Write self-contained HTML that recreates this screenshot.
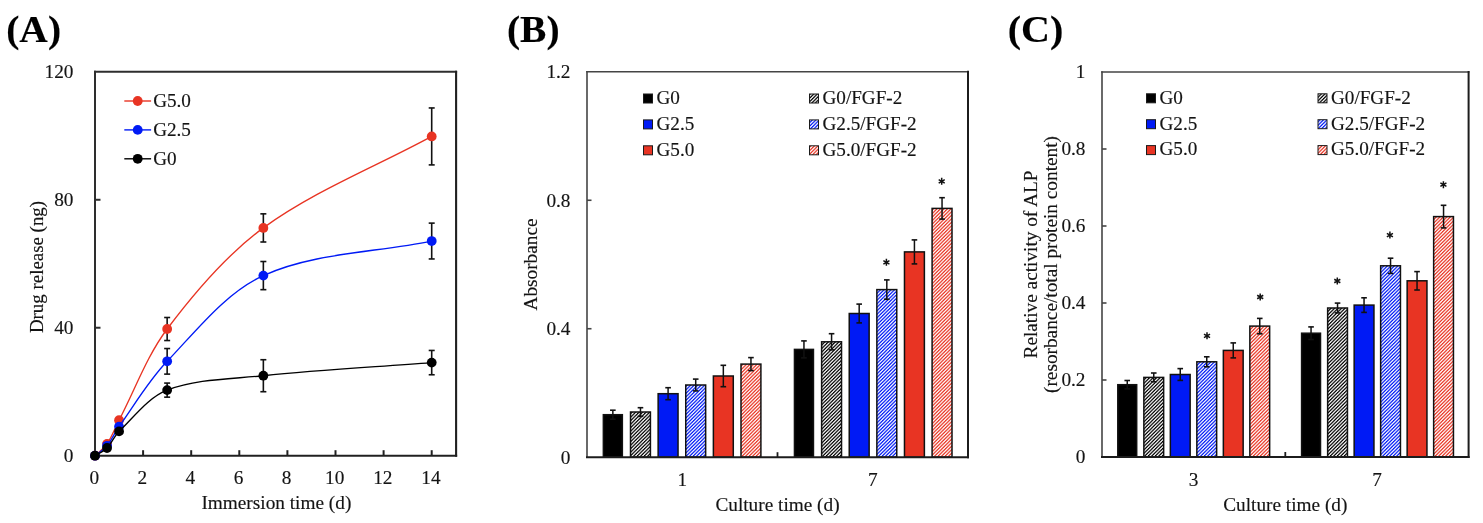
<!DOCTYPE html>
<html><head><meta charset="utf-8"><title>Figure</title>
<style>
html,body{margin:0;padding:0;background:#fff;overflow:hidden;}
svg{display:block;font-family:"Liberation Serif", serif;will-change:transform;filter:blur(0.5px);}
text{stroke:#141414;stroke-width:0.15px;}
</style></head>
<body>
<svg width="1483" height="523" viewBox="0 0 1483 523">
<defs><pattern id="hk" patternUnits="userSpaceOnUse" width="7" height="7"><rect x="0" y="0" width="1" height="1" fill="#040404"/><rect x="1" y="0" width="1" height="1" fill="#585858"/><rect x="2" y="0" width="1" height="1" fill="#f3f3f3"/><rect x="3" y="0" width="1" height="1" fill="#707070"/><rect x="4" y="0" width="1" height="1" fill="#141414"/><rect x="5" y="0" width="1" height="1" fill="#c7c7c7"/><rect x="6" y="0" width="1" height="1" fill="#e3e3e3"/><rect x="0" y="1" width="1" height="1" fill="#585858"/><rect x="1" y="1" width="1" height="1" fill="#efefef"/><rect x="2" y="1" width="1" height="1" fill="#787878"/><rect x="3" y="1" width="1" height="1" fill="#202020"/><rect x="4" y="1" width="1" height="1" fill="#b7b7b7"/><rect x="5" y="1" width="1" height="1" fill="#cfcfcf"/><rect x="6" y="1" width="1" height="1" fill="#181818"/><rect x="0" y="2" width="1" height="1" fill="#f3f3f3"/><rect x="1" y="2" width="1" height="1" fill="#787878"/><rect x="2" y="2" width="1" height="1" fill="#242424"/><rect x="3" y="2" width="1" height="1" fill="#afafaf"/><rect x="4" y="2" width="1" height="1" fill="#c3c3c3"/><rect x="5" y="2" width="1" height="1" fill="#282828"/><rect x="6" y="2" width="1" height="1" fill="#545454"/><rect x="0" y="3" width="1" height="1" fill="#707070"/><rect x="1" y="3" width="1" height="1" fill="#202020"/><rect x="2" y="3" width="1" height="1" fill="#afafaf"/><rect x="3" y="3" width="1" height="1" fill="#bfbfbf"/><rect x="4" y="3" width="1" height="1" fill="#303030"/><rect x="5" y="3" width="1" height="1" fill="#606060"/><rect x="6" y="3" width="1" height="1" fill="#efefef"/><rect x="0" y="4" width="1" height="1" fill="#141414"/><rect x="1" y="4" width="1" height="1" fill="#b7b7b7"/><rect x="2" y="4" width="1" height="1" fill="#c3c3c3"/><rect x="3" y="4" width="1" height="1" fill="#303030"/><rect x="4" y="4" width="1" height="1" fill="#646464"/><rect x="5" y="4" width="1" height="1" fill="#e7e7e7"/><rect x="6" y="4" width="1" height="1" fill="#747474"/><rect x="0" y="5" width="1" height="1" fill="#c7c7c7"/><rect x="1" y="5" width="1" height="1" fill="#cfcfcf"/><rect x="2" y="5" width="1" height="1" fill="#282828"/><rect x="3" y="5" width="1" height="1" fill="#606060"/><rect x="4" y="5" width="1" height="1" fill="#e7e7e7"/><rect x="5" y="5" width="1" height="1" fill="#707070"/><rect x="6" y="5" width="1" height="1" fill="#080808"/><rect x="0" y="6" width="1" height="1" fill="#e3e3e3"/><rect x="1" y="6" width="1" height="1" fill="#181818"/><rect x="2" y="6" width="1" height="1" fill="#545454"/><rect x="3" y="6" width="1" height="1" fill="#efefef"/><rect x="4" y="6" width="1" height="1" fill="#747474"/><rect x="5" y="6" width="1" height="1" fill="#080808"/><rect x="6" y="6" width="1" height="1" fill="#c3c3c3"/></pattern><pattern id="hb" patternUnits="userSpaceOnUse" width="7" height="7"><rect x="0" y="0" width="1" height="1" fill="#041ef5"/><rect x="1" y="0" width="1" height="1" fill="#5869f8"/><rect x="2" y="0" width="1" height="1" fill="#f3f4ff"/><rect x="3" y="0" width="1" height="1" fill="#707ef9"/><rect x="4" y="0" width="1" height="1" fill="#142cf6"/><rect x="5" y="0" width="1" height="1" fill="#c7cdfd"/><rect x="6" y="0" width="1" height="1" fill="#e3e6fe"/><rect x="0" y="1" width="1" height="1" fill="#5869f8"/><rect x="1" y="1" width="1" height="1" fill="#eff1fe"/><rect x="2" y="1" width="1" height="1" fill="#7885fa"/><rect x="3" y="1" width="1" height="1" fill="#2037f6"/><rect x="4" y="1" width="1" height="1" fill="#b7bffc"/><rect x="5" y="1" width="1" height="1" fill="#cfd4fd"/><rect x="6" y="1" width="1" height="1" fill="#182ff6"/><rect x="0" y="2" width="1" height="1" fill="#f3f4ff"/><rect x="1" y="2" width="1" height="1" fill="#7885fa"/><rect x="2" y="2" width="1" height="1" fill="#243af6"/><rect x="3" y="2" width="1" height="1" fill="#afb7fc"/><rect x="4" y="2" width="1" height="1" fill="#c3c9fd"/><rect x="5" y="2" width="1" height="1" fill="#283ef7"/><rect x="6" y="2" width="1" height="1" fill="#5465f8"/><rect x="0" y="3" width="1" height="1" fill="#707ef9"/><rect x="1" y="3" width="1" height="1" fill="#2037f6"/><rect x="2" y="3" width="1" height="1" fill="#afb7fc"/><rect x="3" y="3" width="1" height="1" fill="#bfc6fc"/><rect x="4" y="3" width="1" height="1" fill="#3045f7"/><rect x="5" y="3" width="1" height="1" fill="#6070f9"/><rect x="6" y="3" width="1" height="1" fill="#eff1fe"/><rect x="0" y="4" width="1" height="1" fill="#142cf6"/><rect x="1" y="4" width="1" height="1" fill="#b7bffc"/><rect x="2" y="4" width="1" height="1" fill="#c3c9fd"/><rect x="3" y="4" width="1" height="1" fill="#3045f7"/><rect x="4" y="4" width="1" height="1" fill="#6473f9"/><rect x="5" y="4" width="1" height="1" fill="#e7eafe"/><rect x="6" y="4" width="1" height="1" fill="#7482fa"/><rect x="0" y="5" width="1" height="1" fill="#c7cdfd"/><rect x="1" y="5" width="1" height="1" fill="#cfd4fd"/><rect x="2" y="5" width="1" height="1" fill="#283ef7"/><rect x="3" y="5" width="1" height="1" fill="#6070f9"/><rect x="4" y="5" width="1" height="1" fill="#e7eafe"/><rect x="5" y="5" width="1" height="1" fill="#707ef9"/><rect x="6" y="5" width="1" height="1" fill="#0821f5"/><rect x="0" y="6" width="1" height="1" fill="#e3e6fe"/><rect x="1" y="6" width="1" height="1" fill="#182ff6"/><rect x="2" y="6" width="1" height="1" fill="#5465f8"/><rect x="3" y="6" width="1" height="1" fill="#eff1fe"/><rect x="4" y="6" width="1" height="1" fill="#7482fa"/><rect x="5" y="6" width="1" height="1" fill="#0821f5"/><rect x="6" y="6" width="1" height="1" fill="#c3c9fd"/></pattern><pattern id="hr" patternUnits="userSpaceOnUse" width="7" height="7"><rect x="0" y="0" width="1" height="1" fill="#e83726"/><rect x="1" y="0" width="1" height="1" fill="#f07a6f"/><rect x="2" y="0" width="1" height="1" fill="#fef5f5"/><rect x="3" y="0" width="1" height="1" fill="#f28d83"/><rect x="4" y="0" width="1" height="1" fill="#ea4434"/><rect x="5" y="0" width="1" height="1" fill="#fad3cf"/><rect x="6" y="0" width="1" height="1" fill="#fce9e7"/><rect x="0" y="1" width="1" height="1" fill="#f07a6f"/><rect x="1" y="1" width="1" height="1" fill="#fef2f1"/><rect x="2" y="1" width="1" height="1" fill="#f3938a"/><rect x="3" y="1" width="1" height="1" fill="#eb4d3e"/><rect x="4" y="1" width="1" height="1" fill="#f9c6c1"/><rect x="5" y="1" width="1" height="1" fill="#fbd9d6"/><rect x="6" y="1" width="1" height="1" fill="#ea4738"/><rect x="0" y="2" width="1" height="1" fill="#fef5f5"/><rect x="1" y="2" width="1" height="1" fill="#f3938a"/><rect x="2" y="2" width="1" height="1" fill="#eb5142"/><rect x="3" y="2" width="1" height="1" fill="#f8c0ba"/><rect x="4" y="2" width="1" height="1" fill="#facfcb"/><rect x="5" y="2" width="1" height="1" fill="#ec5445"/><rect x="6" y="2" width="1" height="1" fill="#f0776b"/><rect x="0" y="3" width="1" height="1" fill="#f28d83"/><rect x="1" y="3" width="1" height="1" fill="#eb4d3e"/><rect x="2" y="3" width="1" height="1" fill="#f8c0ba"/><rect x="3" y="3" width="1" height="1" fill="#f9ccc8"/><rect x="4" y="3" width="1" height="1" fill="#ec5a4c"/><rect x="5" y="3" width="1" height="1" fill="#f18076"/><rect x="6" y="3" width="1" height="1" fill="#fef2f1"/><rect x="0" y="4" width="1" height="1" fill="#ea4434"/><rect x="1" y="4" width="1" height="1" fill="#f9c6c1"/><rect x="2" y="4" width="1" height="1" fill="#facfcb"/><rect x="3" y="4" width="1" height="1" fill="#ec5a4c"/><rect x="4" y="4" width="1" height="1" fill="#f18379"/><rect x="5" y="4" width="1" height="1" fill="#fdecea"/><rect x="6" y="4" width="1" height="1" fill="#f29087"/><rect x="0" y="5" width="1" height="1" fill="#fad3cf"/><rect x="1" y="5" width="1" height="1" fill="#fbd9d6"/><rect x="2" y="5" width="1" height="1" fill="#ec5445"/><rect x="3" y="5" width="1" height="1" fill="#f18076"/><rect x="4" y="5" width="1" height="1" fill="#fdecea"/><rect x="5" y="5" width="1" height="1" fill="#f28d83"/><rect x="6" y="5" width="1" height="1" fill="#e93a2a"/><rect x="0" y="6" width="1" height="1" fill="#fce9e7"/><rect x="1" y="6" width="1" height="1" fill="#ea4738"/><rect x="2" y="6" width="1" height="1" fill="#f0776b"/><rect x="3" y="6" width="1" height="1" fill="#fef2f1"/><rect x="4" y="6" width="1" height="1" fill="#f29087"/><rect x="5" y="6" width="1" height="1" fill="#e93a2a"/><rect x="6" y="6" width="1" height="1" fill="#facfcb"/></pattern></defs>
<rect width="1483" height="523" fill="#fff"/>
<line x1="95.00" y1="71.80" x2="456.10" y2="71.80" stroke="#2e2e2e" stroke-width="2.0" stroke-linecap="square"/>
<line x1="95.00" y1="71.80" x2="95.00" y2="455.70" stroke="#2e2e2e" stroke-width="2.0" stroke-linecap="square"/>
<line x1="456.10" y1="71.80" x2="456.10" y2="455.70" stroke="#202020" stroke-width="2.1" stroke-linecap="square"/>
<line x1="95.00" y1="455.70" x2="456.10" y2="455.70" stroke="#202020" stroke-width="2.1" stroke-linecap="square"/>
<line x1="95.00" y1="327.73" x2="100.50" y2="327.73" stroke="#2e2e2e" stroke-width="2.0" />
<line x1="95.00" y1="199.77" x2="100.50" y2="199.77" stroke="#2e2e2e" stroke-width="2.0" />
<line x1="143.10" y1="455.70" x2="143.10" y2="450.20" stroke="#202020" stroke-width="2.0" />
<line x1="191.20" y1="455.70" x2="191.20" y2="450.20" stroke="#202020" stroke-width="2.0" />
<line x1="239.30" y1="455.70" x2="239.30" y2="450.20" stroke="#202020" stroke-width="2.0" />
<line x1="287.40" y1="455.70" x2="287.40" y2="450.20" stroke="#202020" stroke-width="2.0" />
<line x1="335.50" y1="455.70" x2="335.50" y2="450.20" stroke="#202020" stroke-width="2.0" />
<line x1="383.60" y1="455.70" x2="383.60" y2="450.20" stroke="#202020" stroke-width="2.0" />
<line x1="431.70" y1="455.70" x2="431.70" y2="450.20" stroke="#202020" stroke-width="2.0" />
<text x="73.50" y="462.00" font-size="19.3" text-anchor="end" font-weight="normal" fill="#141414" >0</text>
<text x="73.50" y="334.03" font-size="19.3" text-anchor="end" font-weight="normal" fill="#141414" >40</text>
<text x="73.50" y="206.07" font-size="19.3" text-anchor="end" font-weight="normal" fill="#141414" >80</text>
<text x="73.50" y="78.10" font-size="19.3" text-anchor="end" font-weight="normal" fill="#141414" >120</text>
<text x="94.20" y="484.00" font-size="19.3" text-anchor="middle" font-weight="normal" fill="#141414" >0</text>
<text x="142.30" y="484.00" font-size="19.3" text-anchor="middle" font-weight="normal" fill="#141414" >2</text>
<text x="190.40" y="484.00" font-size="19.3" text-anchor="middle" font-weight="normal" fill="#141414" >4</text>
<text x="238.50" y="484.00" font-size="19.3" text-anchor="middle" font-weight="normal" fill="#141414" >6</text>
<text x="286.60" y="484.00" font-size="19.3" text-anchor="middle" font-weight="normal" fill="#141414" >8</text>
<text x="334.70" y="484.00" font-size="19.3" text-anchor="middle" font-weight="normal" fill="#141414" >10</text>
<text x="382.80" y="484.00" font-size="19.3" text-anchor="middle" font-weight="normal" fill="#141414" >12</text>
<text x="430.90" y="484.00" font-size="19.3" text-anchor="middle" font-weight="normal" fill="#141414" >14</text>
<text x="276.35" y="509.00" font-size="19.3" text-anchor="middle" font-weight="normal" fill="#141414" >Immersion time (d)</text>
<text x="0" y="0" font-size="18.9" text-anchor="middle" fill="#141414" transform="translate(42.7,267) rotate(-90)">Drug release (ng)</text>
<path d="M95.00,455.70 C99.01,451.75 103.91,448.46 107.03,443.86 C111.93,436.63 114.95,428.03 119.05,420.19 C134.99,389.75 146.71,356.24 167.15,329.01 C194.81,292.15 226.19,254.97 263.35,227.92 C314.37,190.78 375.58,166.92 431.70,136.42" fill="none" stroke="#E83423" stroke-width="1.35"/>
<line x1="167.15" y1="317.50" x2="167.15" y2="340.53" stroke="#111" stroke-width="1.6" />
<line x1="164.15" y1="317.50" x2="170.15" y2="317.50" stroke="#111" stroke-width="1.6" />
<line x1="164.15" y1="340.53" x2="170.15" y2="340.53" stroke="#111" stroke-width="1.6" />
<line x1="263.35" y1="213.84" x2="263.35" y2="242.00" stroke="#111" stroke-width="1.6" />
<line x1="260.35" y1="213.84" x2="266.35" y2="213.84" stroke="#111" stroke-width="1.6" />
<line x1="260.35" y1="242.00" x2="266.35" y2="242.00" stroke="#111" stroke-width="1.6" />
<line x1="431.70" y1="107.95" x2="431.70" y2="164.90" stroke="#111" stroke-width="1.6" />
<line x1="428.70" y1="107.95" x2="434.70" y2="107.95" stroke="#111" stroke-width="1.6" />
<line x1="428.70" y1="164.90" x2="434.70" y2="164.90" stroke="#111" stroke-width="1.6" />
<circle cx="95.00" cy="455.70" r="4.9" fill="#E83423"/>
<circle cx="107.03" cy="443.86" r="4.9" fill="#E83423"/>
<circle cx="119.05" cy="420.19" r="4.9" fill="#E83423"/>
<circle cx="167.15" cy="329.01" r="4.9" fill="#E83423"/>
<circle cx="263.35" cy="227.92" r="4.9" fill="#E83423"/>
<circle cx="431.70" cy="136.42" r="4.9" fill="#E83423"/>
<path d="M95.00,455.70 C99.01,452.39 103.76,449.74 107.03,445.78 C111.77,440.03 114.67,432.74 119.05,426.59 C134.72,404.58 148.57,380.76 167.15,361.32 C196.67,330.43 225.56,292.77 263.35,275.59 C313.75,252.67 375.58,252.55 431.70,241.04" fill="none" stroke="#001AF5" stroke-width="1.35"/>
<line x1="167.15" y1="348.53" x2="167.15" y2="374.12" stroke="#111" stroke-width="1.6" />
<line x1="164.15" y1="348.53" x2="170.15" y2="348.53" stroke="#111" stroke-width="1.6" />
<line x1="164.15" y1="374.12" x2="170.15" y2="374.12" stroke="#111" stroke-width="1.6" />
<line x1="263.35" y1="261.51" x2="263.35" y2="289.66" stroke="#111" stroke-width="1.6" />
<line x1="260.35" y1="261.51" x2="266.35" y2="261.51" stroke="#111" stroke-width="1.6" />
<line x1="260.35" y1="289.66" x2="266.35" y2="289.66" stroke="#111" stroke-width="1.6" />
<line x1="431.70" y1="223.12" x2="431.70" y2="258.95" stroke="#111" stroke-width="1.6" />
<line x1="428.70" y1="223.12" x2="434.70" y2="223.12" stroke="#111" stroke-width="1.6" />
<line x1="428.70" y1="258.95" x2="434.70" y2="258.95" stroke="#111" stroke-width="1.6" />
<circle cx="95.00" cy="455.70" r="4.9" fill="#001AF5"/>
<circle cx="107.03" cy="445.78" r="4.9" fill="#001AF5"/>
<circle cx="119.05" cy="426.59" r="4.9" fill="#001AF5"/>
<circle cx="167.15" cy="361.32" r="4.9" fill="#001AF5"/>
<circle cx="263.35" cy="275.59" r="4.9" fill="#001AF5"/>
<circle cx="431.70" cy="241.04" r="4.9" fill="#001AF5"/>
<path d="M95.00,455.70 C99.01,453.14 103.74,451.35 107.03,448.02 C111.75,443.24 114.15,436.11 119.05,431.39 C134.19,416.81 148.17,397.44 167.15,390.12 C196.27,378.88 231.12,379.07 263.35,375.72 C319.30,369.90 375.58,366.98 431.70,362.60" fill="none" stroke="#000" stroke-width="1.35"/>
<line x1="167.15" y1="383.08" x2="167.15" y2="397.16" stroke="#111" stroke-width="1.6" />
<line x1="164.15" y1="383.08" x2="170.15" y2="383.08" stroke="#111" stroke-width="1.6" />
<line x1="164.15" y1="397.16" x2="170.15" y2="397.16" stroke="#111" stroke-width="1.6" />
<line x1="263.35" y1="359.72" x2="263.35" y2="391.72" stroke="#111" stroke-width="1.6" />
<line x1="260.35" y1="359.72" x2="266.35" y2="359.72" stroke="#111" stroke-width="1.6" />
<line x1="260.35" y1="391.72" x2="266.35" y2="391.72" stroke="#111" stroke-width="1.6" />
<line x1="431.70" y1="350.45" x2="431.70" y2="374.76" stroke="#111" stroke-width="1.6" />
<line x1="428.70" y1="350.45" x2="434.70" y2="350.45" stroke="#111" stroke-width="1.6" />
<line x1="428.70" y1="374.76" x2="434.70" y2="374.76" stroke="#111" stroke-width="1.6" />
<circle cx="95.00" cy="455.70" r="4.9" fill="#000"/>
<circle cx="107.03" cy="448.02" r="4.9" fill="#000"/>
<circle cx="119.05" cy="431.39" r="4.9" fill="#000"/>
<circle cx="167.15" cy="390.12" r="4.9" fill="#000"/>
<circle cx="263.35" cy="375.72" r="4.9" fill="#000"/>
<circle cx="431.70" cy="362.60" r="4.9" fill="#000"/>
<line x1="124.30" y1="101.00" x2="151.10" y2="101.00" stroke="#E83423" stroke-width="1.4" />
<circle cx="137.7" cy="101.00" r="4.9" fill="#E83423"/>
<text x="153.20" y="107.30" font-size="19.15" text-anchor="start" font-weight="normal" fill="#141414" >G5.0</text>
<line x1="124.30" y1="129.90" x2="151.10" y2="129.90" stroke="#001AF5" stroke-width="1.4" />
<circle cx="137.7" cy="129.90" r="4.9" fill="#001AF5"/>
<text x="153.20" y="136.20" font-size="19.15" text-anchor="start" font-weight="normal" fill="#141414" >G2.5</text>
<line x1="124.30" y1="158.80" x2="151.10" y2="158.80" stroke="#000" stroke-width="1.4" />
<circle cx="137.7" cy="158.80" r="4.9" fill="#000"/>
<text x="153.20" y="165.10" font-size="19.15" text-anchor="start" font-weight="normal" fill="#141414" >G0</text>
<text x="0" y="0" font-size="38.2" font-weight="bold" fill="#000" transform="translate(6.2,41.6) scale(1.035,1)">(A)</text>
<line x1="587.00" y1="328.73" x2="591.50" y2="328.73" stroke="#444" stroke-width="1.6" />
<line x1="587.00" y1="200.27" x2="591.50" y2="200.27" stroke="#444" stroke-width="1.6" />
<text x="570.50" y="463.50" font-size="19.3" text-anchor="end" font-weight="normal" fill="#141414" >0</text>
<text x="570.50" y="335.03" font-size="19.3" text-anchor="end" font-weight="normal" fill="#141414" >0.4</text>
<text x="570.50" y="206.57" font-size="19.3" text-anchor="end" font-weight="normal" fill="#141414" >0.8</text>
<text x="570.50" y="78.10" font-size="19.3" text-anchor="end" font-weight="normal" fill="#141414" >1.2</text>
<line x1="777.50" y1="457.20" x2="777.50" y2="452.20" stroke="#1c1c1c" stroke-width="1.8" />
<text x="682.25" y="485.50" font-size="19.3" text-anchor="middle" font-weight="normal" fill="#141414" >1</text>
<rect x="603.35" y="414.70" width="19.00" height="42.50" fill="#000" stroke="#111" stroke-width="1.5"/>
<line x1="612.85" y1="410.20" x2="612.85" y2="419.20" stroke="#111" stroke-width="1.5" />
<line x1="610.05" y1="410.20" x2="615.65" y2="410.20" stroke="#111" stroke-width="1.6" />
<line x1="610.05" y1="419.20" x2="615.65" y2="419.20" stroke="#111" stroke-width="1.6" />
<rect x="630.52" y="412.00" width="19.90" height="45.20" fill="url(#hk)" stroke="#111" stroke-width="1.5"/>
<line x1="640.47" y1="407.70" x2="640.47" y2="416.30" stroke="#111" stroke-width="1.5" />
<line x1="637.67" y1="407.70" x2="643.27" y2="407.70" stroke="#111" stroke-width="1.6" />
<line x1="637.67" y1="416.30" x2="643.27" y2="416.30" stroke="#111" stroke-width="1.6" />
<rect x="658.14" y="393.70" width="19.90" height="63.50" fill="#001AF5" stroke="#111" stroke-width="1.5"/>
<line x1="668.09" y1="387.70" x2="668.09" y2="399.70" stroke="#111" stroke-width="1.5" />
<line x1="665.29" y1="387.70" x2="670.89" y2="387.70" stroke="#111" stroke-width="1.6" />
<line x1="665.29" y1="399.70" x2="670.89" y2="399.70" stroke="#111" stroke-width="1.6" />
<rect x="685.76" y="385.00" width="19.90" height="72.20" fill="url(#hb)" stroke="#111" stroke-width="1.5"/>
<line x1="695.71" y1="379.10" x2="695.71" y2="390.90" stroke="#111" stroke-width="1.5" />
<line x1="692.91" y1="379.10" x2="698.51" y2="379.10" stroke="#111" stroke-width="1.6" />
<line x1="692.91" y1="390.90" x2="698.51" y2="390.90" stroke="#111" stroke-width="1.6" />
<rect x="713.38" y="376.00" width="19.90" height="81.20" fill="#E83423" stroke="#111" stroke-width="1.5"/>
<line x1="723.33" y1="365.30" x2="723.33" y2="386.70" stroke="#111" stroke-width="1.5" />
<line x1="720.53" y1="365.30" x2="726.13" y2="365.30" stroke="#111" stroke-width="1.6" />
<line x1="720.53" y1="386.70" x2="726.13" y2="386.70" stroke="#111" stroke-width="1.6" />
<rect x="741.00" y="364.10" width="19.90" height="93.10" fill="url(#hr)" stroke="#111" stroke-width="1.5"/>
<line x1="750.95" y1="357.60" x2="750.95" y2="370.60" stroke="#111" stroke-width="1.5" />
<line x1="748.15" y1="357.60" x2="753.75" y2="357.60" stroke="#111" stroke-width="1.6" />
<line x1="748.15" y1="370.60" x2="753.75" y2="370.60" stroke="#111" stroke-width="1.6" />
<text x="872.75" y="485.50" font-size="19.3" text-anchor="middle" font-weight="normal" fill="#141414" >7</text>
<rect x="794.45" y="349.40" width="19.00" height="107.80" fill="#000" stroke="#111" stroke-width="1.5"/>
<line x1="803.95" y1="340.90" x2="803.95" y2="357.90" stroke="#111" stroke-width="1.5" />
<line x1="801.15" y1="340.90" x2="806.75" y2="340.90" stroke="#111" stroke-width="1.6" />
<line x1="801.15" y1="357.90" x2="806.75" y2="357.90" stroke="#111" stroke-width="1.6" />
<rect x="821.62" y="341.80" width="19.90" height="115.40" fill="url(#hk)" stroke="#111" stroke-width="1.5"/>
<line x1="831.57" y1="333.70" x2="831.57" y2="349.90" stroke="#111" stroke-width="1.5" />
<line x1="828.77" y1="333.70" x2="834.37" y2="333.70" stroke="#111" stroke-width="1.6" />
<line x1="828.77" y1="349.90" x2="834.37" y2="349.90" stroke="#111" stroke-width="1.6" />
<rect x="849.24" y="313.50" width="19.90" height="143.70" fill="#001AF5" stroke="#111" stroke-width="1.5"/>
<line x1="859.19" y1="304.10" x2="859.19" y2="322.90" stroke="#111" stroke-width="1.5" />
<line x1="856.39" y1="304.10" x2="861.99" y2="304.10" stroke="#111" stroke-width="1.6" />
<line x1="856.39" y1="322.90" x2="861.99" y2="322.90" stroke="#111" stroke-width="1.6" />
<rect x="876.86" y="289.60" width="19.90" height="167.60" fill="url(#hb)" stroke="#111" stroke-width="1.5"/>
<line x1="886.81" y1="279.90" x2="886.81" y2="299.30" stroke="#111" stroke-width="1.5" />
<line x1="884.01" y1="279.90" x2="889.61" y2="279.90" stroke="#111" stroke-width="1.6" />
<line x1="884.01" y1="299.30" x2="889.61" y2="299.30" stroke="#111" stroke-width="1.6" />
<path d="M886.40,265.80L886.40,258.80M883.37,264.05L889.43,260.55M883.37,260.55L889.43,264.05" stroke="#111" stroke-width="1.5" fill="none"/>
<rect x="904.48" y="251.90" width="19.90" height="205.30" fill="#E83423" stroke="#111" stroke-width="1.5"/>
<line x1="914.43" y1="239.90" x2="914.43" y2="263.90" stroke="#111" stroke-width="1.5" />
<line x1="911.63" y1="239.90" x2="917.23" y2="239.90" stroke="#111" stroke-width="1.6" />
<line x1="911.63" y1="263.90" x2="917.23" y2="263.90" stroke="#111" stroke-width="1.6" />
<rect x="932.10" y="208.40" width="19.90" height="248.80" fill="url(#hr)" stroke="#111" stroke-width="1.5"/>
<line x1="942.05" y1="197.70" x2="942.05" y2="219.10" stroke="#111" stroke-width="1.5" />
<line x1="939.25" y1="197.70" x2="944.85" y2="197.70" stroke="#111" stroke-width="1.6" />
<line x1="939.25" y1="219.10" x2="944.85" y2="219.10" stroke="#111" stroke-width="1.6" />
<path d="M941.70,184.80L941.70,177.80M938.67,183.05L944.73,179.55M938.67,179.55L944.73,183.05" stroke="#111" stroke-width="1.5" fill="none"/>
<line x1="587.00" y1="71.80" x2="968.00" y2="71.80" stroke="#444" stroke-width="1.6" stroke-linecap="square"/>
<line x1="587.00" y1="71.80" x2="587.00" y2="457.20" stroke="#444" stroke-width="1.6" stroke-linecap="square"/>
<line x1="968.00" y1="71.80" x2="968.00" y2="457.20" stroke="#1c1c1c" stroke-width="2.0" stroke-linecap="square"/>
<line x1="587.00" y1="457.20" x2="968.00" y2="457.20" stroke="#1c1c1c" stroke-width="2.0" stroke-linecap="square"/>
<text x="777.50" y="511.00" font-size="19.3" text-anchor="middle" font-weight="normal" fill="#141414" >Culture time (d)</text>
<text x="0" y="0" font-size="19.3" text-anchor="middle" fill="#141414" transform="translate(536.50,264.50) rotate(-90)">Absorbance</text>
<text x="0" y="0" font-size="38.2" font-weight="bold" fill="#000" transform="translate(506.90,41.6) scale(1.035,1)">(B)</text>
<rect x="643.50" y="94.00" width="9" height="9" fill="#000" stroke="#1a1a1a" stroke-width="1"/>
<text x="656.50" y="103.80" font-size="19.15" text-anchor="start" font-weight="normal" fill="#141414" >G0</text>
<rect x="643.50" y="119.90" width="9" height="9" fill="#001AF5" stroke="#1a1a1a" stroke-width="1"/>
<text x="656.50" y="129.70" font-size="19.15" text-anchor="start" font-weight="normal" fill="#141414" >G2.5</text>
<rect x="643.50" y="145.80" width="9" height="9" fill="#E83423" stroke="#1a1a1a" stroke-width="1"/>
<text x="656.50" y="155.60" font-size="19.15" text-anchor="start" font-weight="normal" fill="#141414" >G5.0</text>
<rect x="809.50" y="94.00" width="9" height="9" fill="url(#hk)" stroke="#1a1a1a" stroke-width="1"/>
<text x="822.50" y="103.80" font-size="19.15" text-anchor="start" font-weight="normal" fill="#141414" >G0/FGF-2</text>
<rect x="809.50" y="119.90" width="9" height="9" fill="url(#hb)" stroke="#1a1a1a" stroke-width="1"/>
<text x="822.50" y="129.70" font-size="19.15" text-anchor="start" font-weight="normal" fill="#141414" >G2.5/FGF-2</text>
<rect x="809.50" y="145.80" width="9" height="9" fill="url(#hr)" stroke="#1a1a1a" stroke-width="1"/>
<text x="822.50" y="155.60" font-size="19.15" text-anchor="start" font-weight="normal" fill="#141414" >G5.0/FGF-2</text>
<line x1="1102.00" y1="380.00" x2="1106.50" y2="380.00" stroke="#444" stroke-width="1.6" />
<line x1="1102.00" y1="303.00" x2="1106.50" y2="303.00" stroke="#444" stroke-width="1.6" />
<line x1="1102.00" y1="226.00" x2="1106.50" y2="226.00" stroke="#444" stroke-width="1.6" />
<line x1="1102.00" y1="149.00" x2="1106.50" y2="149.00" stroke="#444" stroke-width="1.6" />
<text x="1085.50" y="463.30" font-size="19.3" text-anchor="end" font-weight="normal" fill="#141414" >0</text>
<text x="1085.50" y="386.30" font-size="19.3" text-anchor="end" font-weight="normal" fill="#141414" >0.2</text>
<text x="1085.50" y="309.30" font-size="19.3" text-anchor="end" font-weight="normal" fill="#141414" >0.4</text>
<text x="1085.50" y="232.30" font-size="19.3" text-anchor="end" font-weight="normal" fill="#141414" >0.6</text>
<text x="1085.50" y="155.30" font-size="19.3" text-anchor="end" font-weight="normal" fill="#141414" >0.8</text>
<text x="1085.50" y="78.30" font-size="19.3" text-anchor="end" font-weight="normal" fill="#141414" >1</text>
<line x1="1285.30" y1="457.00" x2="1285.30" y2="452.00" stroke="#1c1c1c" stroke-width="1.8" />
<text x="1193.65" y="485.50" font-size="19.3" text-anchor="middle" font-weight="normal" fill="#141414" >3</text>
<rect x="1117.80" y="384.70" width="18.90" height="72.30" fill="#000" stroke="#111" stroke-width="1.5"/>
<line x1="1127.25" y1="380.50" x2="1127.25" y2="388.90" stroke="#111" stroke-width="1.5" />
<line x1="1124.45" y1="380.50" x2="1130.05" y2="380.50" stroke="#111" stroke-width="1.6" />
<line x1="1124.45" y1="388.90" x2="1130.05" y2="388.90" stroke="#111" stroke-width="1.6" />
<rect x="1143.85" y="377.40" width="19.80" height="79.60" fill="url(#hk)" stroke="#111" stroke-width="1.5"/>
<line x1="1153.75" y1="373.00" x2="1153.75" y2="381.80" stroke="#111" stroke-width="1.5" />
<line x1="1150.95" y1="373.00" x2="1156.55" y2="373.00" stroke="#111" stroke-width="1.6" />
<line x1="1150.95" y1="381.80" x2="1156.55" y2="381.80" stroke="#111" stroke-width="1.6" />
<rect x="1170.35" y="374.50" width="19.80" height="82.50" fill="#001AF5" stroke="#111" stroke-width="1.5"/>
<line x1="1180.25" y1="368.60" x2="1180.25" y2="380.40" stroke="#111" stroke-width="1.5" />
<line x1="1177.45" y1="368.60" x2="1183.05" y2="368.60" stroke="#111" stroke-width="1.6" />
<line x1="1177.45" y1="380.40" x2="1183.05" y2="380.40" stroke="#111" stroke-width="1.6" />
<rect x="1196.85" y="361.80" width="19.80" height="95.20" fill="url(#hb)" stroke="#111" stroke-width="1.5"/>
<line x1="1206.75" y1="356.80" x2="1206.75" y2="366.80" stroke="#111" stroke-width="1.5" />
<line x1="1203.95" y1="356.80" x2="1209.55" y2="356.80" stroke="#111" stroke-width="1.6" />
<line x1="1203.95" y1="366.80" x2="1209.55" y2="366.80" stroke="#111" stroke-width="1.6" />
<path d="M1207.00,339.30L1207.00,332.30M1203.97,337.55L1210.03,334.05M1203.97,334.05L1210.03,337.55" stroke="#111" stroke-width="1.5" fill="none"/>
<rect x="1223.35" y="350.40" width="19.80" height="106.60" fill="#E83423" stroke="#111" stroke-width="1.5"/>
<line x1="1233.25" y1="342.90" x2="1233.25" y2="357.90" stroke="#111" stroke-width="1.5" />
<line x1="1230.45" y1="342.90" x2="1236.05" y2="342.90" stroke="#111" stroke-width="1.6" />
<line x1="1230.45" y1="357.90" x2="1236.05" y2="357.90" stroke="#111" stroke-width="1.6" />
<rect x="1249.85" y="326.10" width="19.80" height="130.90" fill="url(#hr)" stroke="#111" stroke-width="1.5"/>
<line x1="1259.75" y1="318.40" x2="1259.75" y2="333.80" stroke="#111" stroke-width="1.5" />
<line x1="1256.95" y1="318.40" x2="1262.55" y2="318.40" stroke="#111" stroke-width="1.6" />
<line x1="1256.95" y1="333.80" x2="1262.55" y2="333.80" stroke="#111" stroke-width="1.6" />
<path d="M1260.20,300.50L1260.20,293.50M1257.17,298.75L1263.23,295.25M1257.17,295.25L1263.23,298.75" stroke="#111" stroke-width="1.5" fill="none"/>
<text x="1376.95" y="485.50" font-size="19.3" text-anchor="middle" font-weight="normal" fill="#141414" >7</text>
<rect x="1301.60" y="333.20" width="18.90" height="123.80" fill="#000" stroke="#111" stroke-width="1.5"/>
<line x1="1311.05" y1="326.90" x2="1311.05" y2="339.50" stroke="#111" stroke-width="1.5" />
<line x1="1308.25" y1="326.90" x2="1313.85" y2="326.90" stroke="#111" stroke-width="1.6" />
<line x1="1308.25" y1="339.50" x2="1313.85" y2="339.50" stroke="#111" stroke-width="1.6" />
<rect x="1327.65" y="308.00" width="19.80" height="149.00" fill="url(#hk)" stroke="#111" stroke-width="1.5"/>
<line x1="1337.55" y1="303.10" x2="1337.55" y2="312.90" stroke="#111" stroke-width="1.5" />
<line x1="1334.75" y1="303.10" x2="1340.35" y2="303.10" stroke="#111" stroke-width="1.6" />
<line x1="1334.75" y1="312.90" x2="1340.35" y2="312.90" stroke="#111" stroke-width="1.6" />
<path d="M1337.30,284.50L1337.30,277.50M1334.27,282.75L1340.33,279.25M1334.27,279.25L1340.33,282.75" stroke="#111" stroke-width="1.5" fill="none"/>
<rect x="1354.15" y="305.10" width="19.80" height="151.90" fill="#001AF5" stroke="#111" stroke-width="1.5"/>
<line x1="1364.05" y1="297.80" x2="1364.05" y2="312.40" stroke="#111" stroke-width="1.5" />
<line x1="1361.25" y1="297.80" x2="1366.85" y2="297.80" stroke="#111" stroke-width="1.6" />
<line x1="1361.25" y1="312.40" x2="1366.85" y2="312.40" stroke="#111" stroke-width="1.6" />
<rect x="1380.65" y="265.80" width="19.80" height="191.20" fill="url(#hb)" stroke="#111" stroke-width="1.5"/>
<line x1="1390.55" y1="258.20" x2="1390.55" y2="273.40" stroke="#111" stroke-width="1.5" />
<line x1="1387.75" y1="258.20" x2="1393.35" y2="258.20" stroke="#111" stroke-width="1.6" />
<line x1="1387.75" y1="273.40" x2="1393.35" y2="273.40" stroke="#111" stroke-width="1.6" />
<path d="M1389.90,238.60L1389.90,231.60M1386.87,236.85L1392.93,233.35M1386.87,233.35L1392.93,236.85" stroke="#111" stroke-width="1.5" fill="none"/>
<rect x="1407.15" y="280.80" width="19.80" height="176.20" fill="#E83423" stroke="#111" stroke-width="1.5"/>
<line x1="1417.05" y1="271.60" x2="1417.05" y2="290.00" stroke="#111" stroke-width="1.5" />
<line x1="1414.25" y1="271.60" x2="1419.85" y2="271.60" stroke="#111" stroke-width="1.6" />
<line x1="1414.25" y1="290.00" x2="1419.85" y2="290.00" stroke="#111" stroke-width="1.6" />
<rect x="1433.65" y="216.60" width="19.80" height="240.40" fill="url(#hr)" stroke="#111" stroke-width="1.5"/>
<line x1="1443.55" y1="205.30" x2="1443.55" y2="227.90" stroke="#111" stroke-width="1.5" />
<line x1="1440.75" y1="205.30" x2="1446.35" y2="205.30" stroke="#111" stroke-width="1.6" />
<line x1="1440.75" y1="227.90" x2="1446.35" y2="227.90" stroke="#111" stroke-width="1.6" />
<path d="M1443.40,188.20L1443.40,181.20M1440.37,186.45L1446.43,182.95M1440.37,182.95L1446.43,186.45" stroke="#111" stroke-width="1.5" fill="none"/>
<line x1="1102.00" y1="72.00" x2="1468.60" y2="72.00" stroke="#444" stroke-width="1.6" stroke-linecap="square"/>
<line x1="1102.00" y1="72.00" x2="1102.00" y2="457.00" stroke="#444" stroke-width="1.6" stroke-linecap="square"/>
<line x1="1468.60" y1="72.00" x2="1468.60" y2="457.00" stroke="#1c1c1c" stroke-width="2.0" stroke-linecap="square"/>
<line x1="1102.00" y1="457.00" x2="1468.60" y2="457.00" stroke="#1c1c1c" stroke-width="2.0" stroke-linecap="square"/>
<text x="1285.30" y="511.00" font-size="19.3" text-anchor="middle" font-weight="normal" fill="#141414" >Culture time (d)</text>
<text x="0" y="0" font-size="19.3" text-anchor="middle" fill="#141414" transform="translate(1036.50,264.50) rotate(-90)">Relative activity of ALP</text>
<text x="0" y="0" font-size="19.3" text-anchor="middle" fill="#141414" transform="translate(1056.50,264.50) rotate(-90)">(resorbance/total protein content)</text>
<text x="0" y="0" font-size="38.2" font-weight="bold" fill="#000" transform="translate(1007.70,41.6) scale(1.05,1)">(C)</text>
<rect x="1146.50" y="93.80" width="9" height="9" fill="#000" stroke="#1a1a1a" stroke-width="1"/>
<text x="1159.50" y="103.60" font-size="19.15" text-anchor="start" font-weight="normal" fill="#141414" >G0</text>
<rect x="1146.50" y="119.70" width="9" height="9" fill="#001AF5" stroke="#1a1a1a" stroke-width="1"/>
<text x="1159.50" y="129.50" font-size="19.15" text-anchor="start" font-weight="normal" fill="#141414" >G2.5</text>
<rect x="1146.50" y="145.60" width="9" height="9" fill="#E83423" stroke="#1a1a1a" stroke-width="1"/>
<text x="1159.50" y="155.40" font-size="19.15" text-anchor="start" font-weight="normal" fill="#141414" >G5.0</text>
<rect x="1318.00" y="93.80" width="9" height="9" fill="url(#hk)" stroke="#1a1a1a" stroke-width="1"/>
<text x="1331.00" y="103.60" font-size="19.15" text-anchor="start" font-weight="normal" fill="#141414" >G0/FGF-2</text>
<rect x="1318.00" y="119.70" width="9" height="9" fill="url(#hb)" stroke="#1a1a1a" stroke-width="1"/>
<text x="1331.00" y="129.50" font-size="19.15" text-anchor="start" font-weight="normal" fill="#141414" >G2.5/FGF-2</text>
<rect x="1318.00" y="145.60" width="9" height="9" fill="url(#hr)" stroke="#1a1a1a" stroke-width="1"/>
<text x="1331.00" y="155.40" font-size="19.15" text-anchor="start" font-weight="normal" fill="#141414" >G5.0/FGF-2</text>
</svg>
</body></html>
